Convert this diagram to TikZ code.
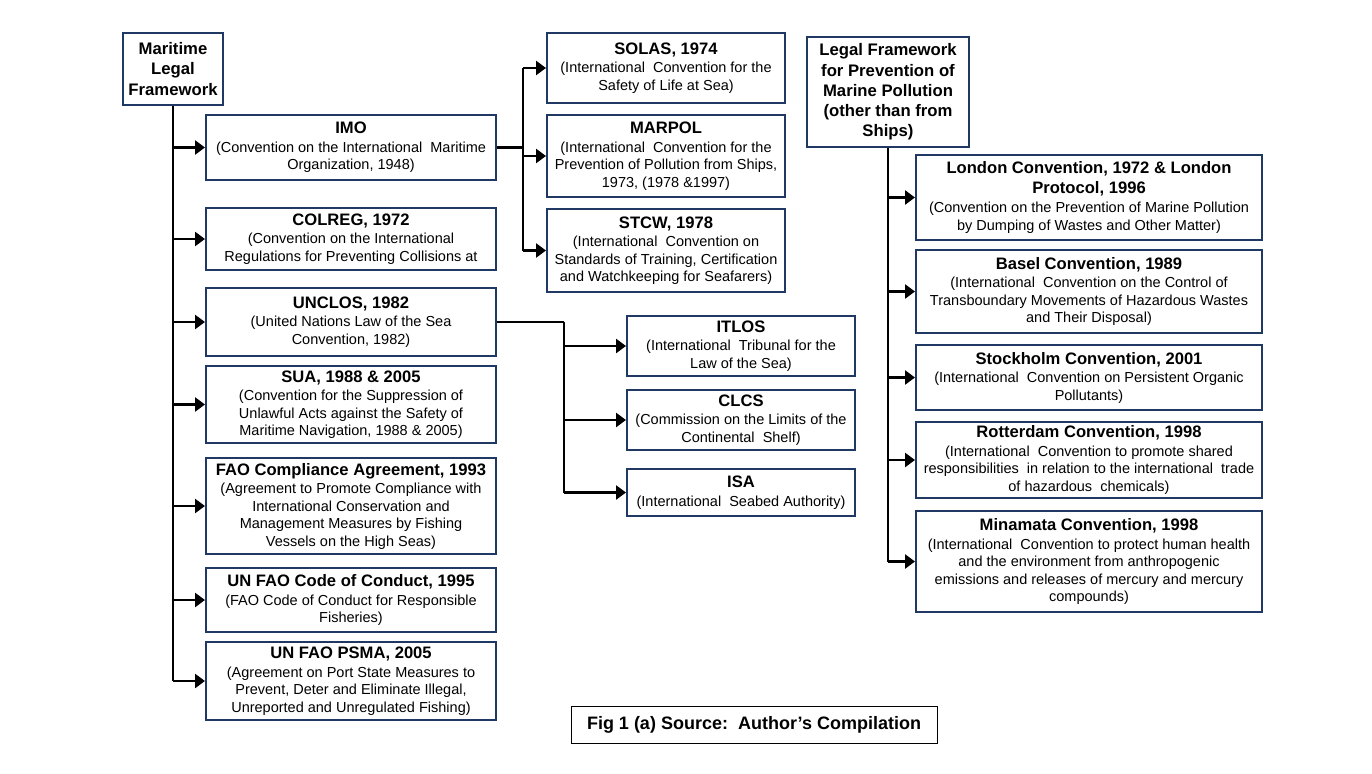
\documentclass[tikz,border=0pt]{standalone}
\usepackage{fontspec}
\setmainfont{Liberation Sans}
\usetikzlibrary{arrows.meta}
\definecolor{navy}{HTML}{1F3864}
\newcommand\hdr[1]{{\fontsize{16.6}{18}\selectfont\bfseries #1}}
\begin{document}
\begin{tikzpicture}[x=1pt,y=-1pt,
  box/.style={draw=navy, line width=2pt, align=center, inner sep=1pt,
    font=\fontsize{14.5}{17.5}\selectfont},
  headbox/.style={box, font=\fontsize{16.7}{20.3}\selectfont\bfseries},
  capbox/.style={draw=black, line width=1pt, align=center, font=\fontsize{18}{20}\selectfont\bfseries},
  conn/.style={line width=2.8pt, black},
  arr/.style={conn, -{Triangle[length=10pt,width=14pt]}}]
\useasboundingbox (0,0) rectangle (1372,773);

% left column
\node[headbox, minimum width=100pt, minimum height=72pt] (mlf) at (173,69) {Maritime\\Legal\\Framework};
\node[box, minimum width=290pt, minimum height=65pt] (imo) at (351,147.5) {\hdr{IMO}\\[1pt](Convention on the International\ \ Maritime\\Organization, 1948)};
\node[box, minimum width=290pt, minimum height=62pt] (colreg) at (351,239) {\hdr{COLREG, 1972}\\[1pt](Convention on the International\\Regulations for Preventing Collisions at};
\node[box, minimum width=290pt, minimum height=68pt] (unclos) at (351,322) {\hdr{UNCLOS, 1982}\\[1pt](United Nations Law of the Sea\\Convention, 1982)};
\node[box, minimum width=290pt, minimum height=77pt] (sua) at (351,404.5) {\hdr{SUA, 1988 \& 2005}\\[1pt](Convention for the Suppression of\\Unlawful Acts against the Safety of\\Maritime Navigation, 1988 \& 2005)};
\node[box, minimum width=290pt, minimum height=96pt] (fao) at (351,506) {\hdr{FAO Compliance Agreement, 1993}\\[1pt](Agreement to Promote Compliance with\\International Conservation and\\Management Measures by Fishing\\Vessels on the High Seas)};
\node[box, minimum width=290pt, minimum height=64pt] (code) at (351,600) {\hdr{UN FAO Code of Conduct, 1995}\\[1pt](FAO Code of Conduct for Responsible\\Fisheries)};
\node[box, minimum width=290pt, minimum height=78pt] (psma) at (351,681) {\hdr{UN FAO PSMA, 2005}\\[1pt](Agreement on Port State Measures to\\Prevent, Deter and Eliminate Illegal,\\Unreported and Unregulated Fishing)};

% IMO children
\node[box, minimum width=238pt, minimum height=70pt] (solas) at (666,68) {\hdr{SOLAS, 1974}\\[1pt](International\ \ Convention for the\\Safety of Life at Sea)};
\node[box, minimum width=238pt, minimum height=82pt] (marpol) at (666,156) {\hdr{MARPOL}\\[1pt](International\ \ Convention for the\\Prevention of Pollution from Ships,\\1973, (1978 \&1997)};
\node[box, minimum width=238pt, minimum height=83pt] (stcw) at (666,250.5) {\hdr{STCW, 1978}\\[1pt](International\ \ Convention on\\Standards of Training, Certification\\and Watchkeeping for Seafarers)};

% UNCLOS children
\node[box, minimum width=228pt, minimum height=60pt] (itlos) at (741,346) {\hdr{ITLOS}\\[1pt](International\ \ Tribunal for the\\Law of the Sea)};
\node[box, minimum width=228pt, minimum height=60pt] (clcs) at (741,420) {\hdr{CLCS}\\[1pt](Commission on the Limits of the\\Continental\ \ Shelf)};
\node[box, minimum width=228pt, minimum height=47pt] (isa) at (741,492.5) {\hdr{ISA}\\[1pt](International\ \ Seabed Authority)};

% right column
\node[headbox, minimum width=162pt, minimum height=110pt] (lfp) at (888,92) {Legal Framework\\for Prevention of\\Marine Pollution\\(other than from\\Ships)};
\node[box, minimum width=346pt, minimum height=85pt] (london) at (1089,197.5) {\hdr{London Convention, 1972 \& London}\\[2pt]\hdr{Protocol, 1996}\\[2pt](Convention on the Prevention of Marine Pollution\\by Dumping of Wastes and Other Matter)};
\node[box, minimum width=346pt, minimum height=83pt] (basel) at (1089,291.5) {\hdr{Basel Convention, 1989}\\[1pt](International\ \ Convention on the Control of\\Transboundary Movements of Hazardous Wastes\\and Their Disposal)};
\node[box, minimum width=346pt, minimum height=65pt] (stock) at (1089,377.5) {\hdr{Stockholm Convention, 2001}\\[1pt](International\ \ Convention on Persistent Organic\\Pollutants)};
\node[box, minimum width=346pt, minimum height=76pt] (rott) at (1089,460) {\hdr{Rotterdam Convention, 1998}\\[1pt](International\ \ Convention to promote shared\\responsibilities\ \ in relation to the international\ \ trade\\of hazardous\ \ chemicals)};
\node[box, minimum width=346pt, minimum height=101pt] (mina) at (1089,561.5) {\hdr{Minamata Convention, 1998}\\[1pt](International\ \ Convention to protect human health\\and the environment from anthropogenic\\emissions and releases of mercury and mercury\\compounds)};

% caption
\node[capbox, minimum width=366pt, minimum height=37pt] (cap) at (754,724.5) {Fig 1 (a) Source:\ \ Author’s Compilation};

% left trunk
\draw[conn] (mlf.south) -- (mlf.south |- psma.west);
\foreach \n in {imo,colreg,unclos,sua,fao,code,psma}
  \draw[arr] (mlf.south |- \n.west) -- (\n.west);

% IMO branch
\draw[conn] (imo.east) -- ++(26,0) coordinate (ib);
\draw[conn] (ib |- solas.west) -- (ib |- stcw.west);
\foreach \n in {solas,marpol,stcw}
  \draw[arr] (ib |- \n.west) -- (\n.west);

% UNCLOS branch
\draw[conn] (unclos.east) -- ++(67,0) coordinate (ub);
\draw[conn] (ub) -- (ub |- isa.west);
\foreach \n in {itlos,clcs,isa}
  \draw[arr] (ub |- \n.west) -- (\n.west);

% right trunk
\draw[conn] (lfp.south) -- (lfp.south |- mina.west);
\foreach \n in {london,basel,stock,rott,mina}
  \draw[arr] (lfp.south |- \n.west) -- (\n.west);
\end{tikzpicture}
\end{document}
